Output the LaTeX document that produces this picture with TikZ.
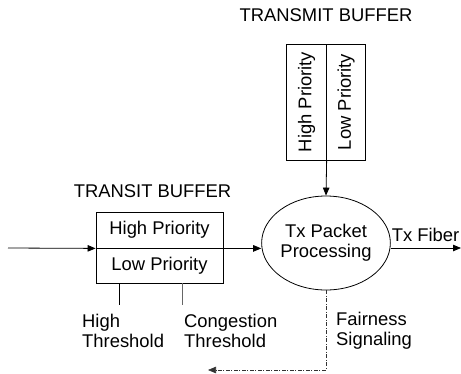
\documentclass[tikz,border=0pt]{standalone}
\usepackage{fontspec}
\setmainfont{Liberation Sans}
\usetikzlibrary{arrows.meta,shapes.geometric}
\begin{document}
\begin{tikzpicture}[x=1pt,y=-1pt,
  every node/.style={font=\fontsize{18.4}{20}\selectfont},
  line/.style={line width=0.8pt},
  arr/.style={line, -{Triangle[length=8pt,width=6.5pt]}},
  cell/.style={draw, line width=0.8pt, inner sep=0pt},
  lbl/.style={inner sep=0pt, align=left, anchor=west},
  sig/.style={line width=0.6pt, draw=black!80, dash pattern=on 4pt off 1.5pt on 1pt off 1.5pt, -{Triangle[length=8pt,width=6.5pt]}}]
\useasboundingbox (0,0) rectangle (461,373);
% transmit buffer
\node[inner sep=0pt] (tbt) at (326,15) {TRANSMIT BUFFER};
\node[cell, minimum width=39.5pt, minimum height=116pt] (tbh) at (306.5,102) {};
\node[cell, minimum width=39.5pt, minimum height=116pt] (tbl) at (346,102) {};
\node[rotate=90, inner sep=0pt] (tbhtext) at (tbh.center) {High Priority};
\node[rotate=90, inner sep=0pt] (tbltext) at (tbl.center) {Low Priority};
% transit buffer
\node[inner sep=0pt] (trt) at (152.5,191) {TRANSIT BUFFER};
\node[cell, minimum width=127pt, minimum height=36pt] (th) at (159.5,230) {High Priority};
\node[cell, minimum width=127pt, minimum height=35pt] (tl) at (159.5,265.5) {Low Priority};
% processing
\node[draw, ellipse, line width=0.8pt, minimum width=104pt, minimum height=94pt, inner sep=0pt, align=center] (c) at (326,243) {Tx Packet\\Processing};
% coordinates
\coordinate (in) at (8,248);
\coordinate (fiber) at (461,248);
\coordinate (fs) at (208,370);
\coordinate (ht) at (119.3,305);
\coordinate (ct) at (182.7,305);
% connectors
\draw[arr] (in) -- (th.south west);
\draw[arr] (th.south east) -- (th.south east -| c.west);
\draw[arr] (tbh.south east) -- (c.north);
\draw[arr] (c.east |- fiber) -- (fiber);
\draw[sig] (c.south) |- (fs);
\draw[line] (ht |- tl.south) -- (ht);
\draw[line, draw=black!60] (ct |- tl.south) -- (ct);
% labels
\node[lbl] (hth) at (82,331) {High\\Threshold};
\node[lbl] (cth) at (184,331) {Congestion\\Threshold};
\node[lbl] (fsl) at (336,331) {Fairness\\Signaling};
\node[inner sep=0pt, anchor=east] (txf) at (459.5,235) {Tx Fiber};
\end{tikzpicture}
\end{document}
